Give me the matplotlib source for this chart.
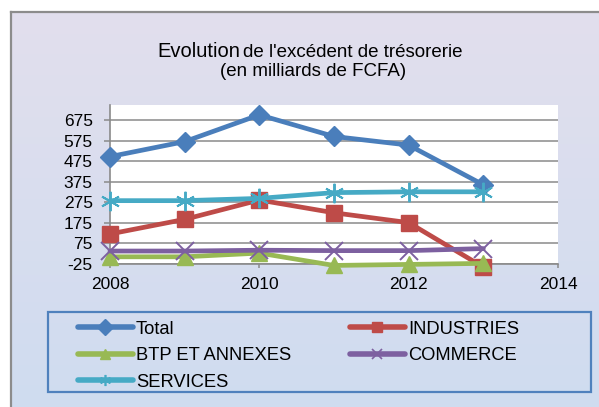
import numpy as np
import matplotlib
matplotlib.use('Agg')
import matplotlib.pyplot as plt
from matplotlib.lines import Line2D
from matplotlib.patches import Rectangle

plt.rcParams['font.family'] = ['Liberation Sans', 'DejaVu Sans']
plt.rcParams['axes.unicode_minus'] = False

# données (milliards de FCFA)
annees = [2008, 2009, 2010, 2011, 2012, 2013]
total = [497, 570, 700, 595, 553, 360]
industries = [121, 192, 286, 224, 176, -40]
btp = [10, 10, 28, -32, -27, -22]
commerce = [38, 38, 42, 40, 40, 50]
services = [283, 283, 294, 322, 326, 326]

yticks = [-25, 75, 175, 275, 375, 475, 575, 675]
xticks = [2008, 2010, 2012, 2014]

series = [
    ('Total', total, '#4a7ebb', 'D', 10.5, 8),
    ('INDUSTRIES', industries, '#be4b48', 's', 11, 7.5),
    ('BTP ET ANNEXES', btp, '#98b954', '^', 12, 7.5),
    ('COMMERCE', commerce, '#7d60a0', 'x', 13, 7),
    ('SERVICES', services, '#46aac5', (6, 2, 0), 14, 8),
]

W, H = 599, 407
fig = plt.figure(figsize=(W / 100, H / 100), dpi=100)
fig.patch.set_facecolor('white')

# fond dégradé du cadre
bg = fig.add_axes([11 / W, 0, 1 - 11 / W, 1 - 12 / H], zorder=-10)
c_haut = np.array([226, 223, 237]) / 255
c_bas = np.array([207, 220, 240]) / 255
t = np.linspace(0, 1, 200)[:, None]
grad = (c_haut * (1 - t) + c_bas * t)[:, None, :]
bg.imshow(grad, aspect='auto', extent=[0, 1, 0, 1])
bg.set_xlim(0, 1)
bg.set_ylim(0, 1)
bg.set_xticks([])
bg.set_yticks([])
for s in ['right', 'bottom']:
    bg.spines[s].set_visible(False)
for s in ['left', 'top']:
    bg.spines[s].set_color('#8c8c8c')
    bg.spines[s].set_linewidth(1.6)

ax = fig.add_axes([110 / W, 1 - 264 / H, 448 / W, (264 - 105) / H])
ax.set_facecolor('white')

for nom, vals, coul, mk, ms, _ in series:
    kw = dict(mfc=coul, mec=coul)
    if mk in ('x',) or isinstance(mk, tuple):
        kw['mew'] = 1.4
    ax.plot(annees, vals, color=coul, lw=3.4, marker=mk, ms=ms,
            solid_capstyle='round', solid_joinstyle='round',
            clip_on=False, zorder=3, **kw)

ax.set_xlim(2008, 2014)
ax.set_ylim(-25, 748)
ax.set_yticks(yticks)
ax.set_yticklabels([str(v) for v in yticks])
ax.set_xticks(xticks)
ax.set_xticklabels([str(v) for v in xticks])
ax.tick_params(axis='both', direction='out', color='#8a8a8a', width=1.1,
               labelsize=12.5, labelcolor='black')
ax.tick_params(axis='y', length=4.5, pad=8)
ax.tick_params(axis='x', length=3, pad=6.5)
ax.grid(axis='y', color='#8a8a8a', lw=1.1)
ax.set_axisbelow(True)
for s in ['top', 'right']:
    ax.spines[s].set_visible(False)
for s in ['left', 'bottom']:
    ax.spines[s].set_color('#8a8a8a')
    ax.spines[s].set_linewidth(1.2)

# titre
fig.text(240 / W, 1 - 57 / H, 'Evolution', ha='right', va='baseline', fontsize=14.5)
fig.text(243 / W, 1 - 57 / H, "de l'excédent de trésorerie", ha='left', va='baseline', fontsize=13.5)
fig.text(313 / W, 1 - 76.5 / H, '(en milliards de FCFA)', ha='center', va='baseline', fontsize=13.5)

# légende
fig.patches.append(Rectangle((48 / W, 1 - 392 / H), (591 - 48) / W, (392 - 312) / H,
                             transform=fig.transFigure, fill=False,
                             edgecolor='#4f81bd', lw=1.6))
handles = []
for nom, vals, coul, mk, ms, ms_leg in series:
    kw = dict(mfc=coul, mec=coul)
    if mk in ('x',) or isinstance(mk, tuple):
        kw['mew'] = 1.2
    handles.append(Line2D([0], [0], color=coul, lw=4, marker=mk, ms=ms_leg,
                          solid_capstyle='round', label=nom, **kw))

opts = dict(loc='upper left', frameon=False, fontsize=13.2, handlelength=3.0,
            handletextpad=0.17, labelspacing=0.52, borderpad=0.25)
leg1 = fig.legend(handles=[handles[0], handles[2], handles[4]],
                  bbox_to_anchor=(64 / W, 1 - 307 / H), **opts)
leg2 = fig.legend(handles=[handles[1], handles[3]],
                  bbox_to_anchor=(336 / W, 1 - 307 / H), **opts)

fig.savefig('out.png', dpi=100)
